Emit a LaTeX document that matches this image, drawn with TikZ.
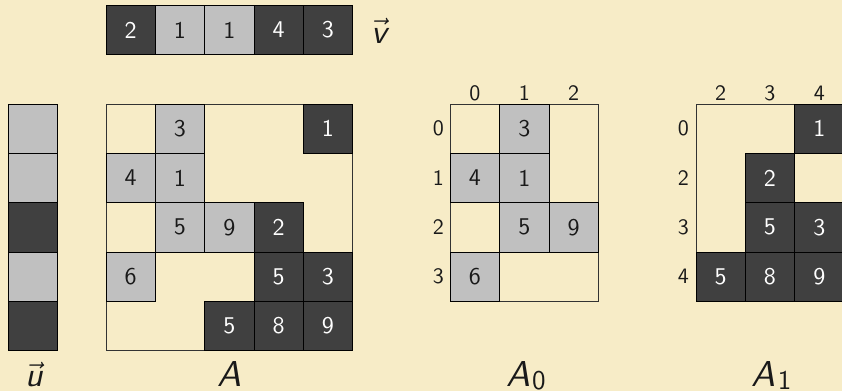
\documentclass[tikz,border=0pt]{standalone}
\usepackage{amsmath}
\usepackage{graphicx}
\definecolor{bg}{RGB}{247,236,199}
\definecolor{lcell}{RGB}{192,192,192}
\definecolor{dcell}{RGB}{64,64,64}
\definecolor{ink}{RGB}{25,25,25}
\tikzset{
  cellbase/.style={draw=black, line width=0.6pt, minimum size=49.3pt, inner sep=0pt, anchor=center},
  lc/.style={cellbase, fill=lcell, text=ink},
  dc/.style={cellbase, fill=dcell, text=white},
  frame/.style={draw=black!80, line width=0.8pt},
  idx/.style={text=ink, inner sep=0pt},
  big/.style={text=ink, inner sep=0pt, anchor=base}
}
\newcommand{\numtxt}[1]{\scalebox{2.4}{\fontsize{10}{12}\selectfont\sffamily #1}}
\newcommand{\idxtxt}[1]{\scalebox{2.2}{\fontsize{10}{12}\selectfont\sffamily #1}}
\newcommand{\veclab}[1]{\scalebox{3.4}{\fontsize{10}{12}\selectfont$\vec{\mbox{\sffamily\itshape #1}}$}}
\newcommand{\matlab}[1]{\scalebox{3.6}{\fontsize{10}{12}\selectfont\sffamily\itshape A}\ifx&#1&\else\kern2pt\raisebox{-3pt}{\scalebox{2.7}{\fontsize{10}{12}\selectfont\sffamily #1}}\fi}
\begin{document}
\begin{tikzpicture}[x=1pt,y=-1pt]
\useasboundingbox (0,0) rectangle (842,391);
\fill[bg] (0,0) rectangle (842,391);
\clip (0,0) rectangle (842,391);
\def\cs{49.3}
% vector v
\foreach \i/\val/\st in {0/2/dc,1/1/lc,2/1/lc,3/4/dc,4/3/dc}
  \node[\st] (v\i) at ({106+24.65+\cs*\i},30) {\numtxt{\val}};
\node[big] (vlab) at (379,43.3) {\veclab{v}};
% vector u
\foreach \i/\st in {0/lc,1/lc,2/dc,3/lc,4/dc}
  \node[\st] (u\i) at (32.7,{128.65+\cs*\i}) {};
\node[big] (ulab) at (34.3,386.7) {\veclab{u}};
% matrix A
\node[frame, minimum width=246.5pt, minimum height=246.5pt, inner sep=0pt] (Aframe) at ({106+123.25},{104+123.25}) {};
\foreach \r/\c/\val/\st in {0/1/3/lc,0/4/1/dc,1/0/4/lc,1/1/1/lc,2/1/5/lc,2/2/9/lc,2/3/2/dc,
   3/0/6/lc,3/3/5/dc,3/4/3/dc,4/2/5/dc,4/3/8/dc,4/4/9/dc}
  \node[\st] (A\r\c) at ({106+24.65+\cs*\c},{104+24.65+\cs*\r}) {\numtxt{\val}};
\node[big] (Alab) at (230,386.7) {\matlab{}};
% matrix A0
\node[frame, minimum width=147.9pt, minimum height=197.2pt, inner sep=0pt] (A0frame) at ({450.3+73.95},{104+98.6}) {};
\foreach \r/\c/\val in {0/1/3,1/0/4,1/1/1,2/1/5,2/2/9,3/0/6}
  \node[lc] (B\r\c) at ({450.3+24.65+\cs*\c},{104+24.65+\cs*\r}) {\numtxt{\val}};
\foreach \c in {0,1,2}
  \node[idx] (Bc\c) at ({450.3+24.65+\cs*\c},93) {\idxtxt{\c}};
\foreach \r in {0,1,2,3}
  \node[idx] (Br\r) at (438.3,{104+24.65+\cs*\r}) {\idxtxt{\r}};
\node[big, anchor=base west] (A0lab) at (506,386.7) {\matlab{0}};
% matrix A1
\node[frame, minimum width=147.9pt, minimum height=197.2pt, inner sep=0pt] (A1frame) at ({696+73.95},{104+98.6}) {};
\foreach \r/\c/\val in {0/2/1,1/1/2,2/1/5,2/2/3,3/0/5,3/1/8,3/2/9}
  \node[dc] (C\r\c) at ({696+24.65+\cs*\c},{104+24.65+\cs*\r}) {\numtxt{\val}};
\foreach \c/\t in {0/2,1/3,2/4}
  \node[idx] (Cc\c) at ({696+24.65+\cs*\c},93) {\idxtxt{\t}};
\foreach \r/\t in {0/0,1/2,2/3,3/4}
  \node[idx] (Cr\r) at (683.3,{104+24.65+\cs*\r}) {\idxtxt{\t}};
\node[big, anchor=base west] (A1lab) at (751.7,386.7) {\matlab{1}};
\end{tikzpicture}
\end{document}
